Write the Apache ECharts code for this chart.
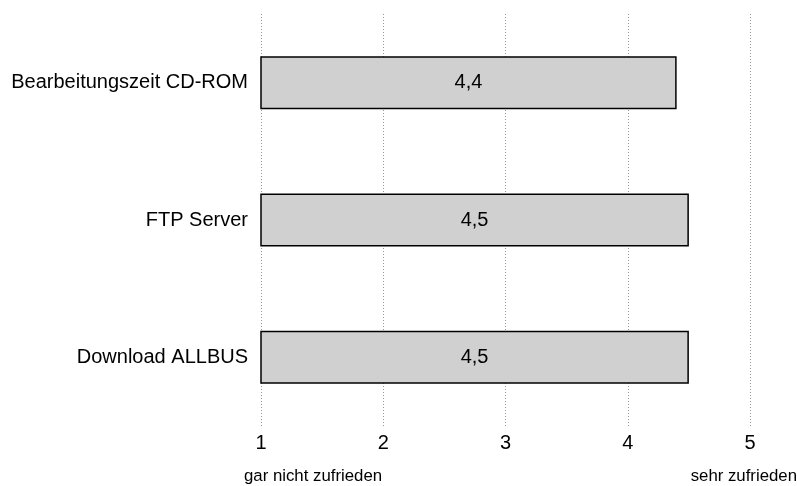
<!DOCTYPE html>
<html>
<head>
<meta charset="utf-8">
<script src="https://cdn.jsdelivr.net/npm/echarts@6/dist/echarts.min.js"></script>
<style>
  html, body { margin: 0; padding: 0; background: #fff; }
  #chart { width: 797px; height: 486px; }
</style>
</head>
<body>
<div id="chart"></div>
<script>
// Satisfaction ratings (scale 1 = gar nicht zufrieden ... 5 = sehr zufrieden)
const categories = ['Bearbeitungszeit CD-ROM', 'FTP Server', 'Download ALLBUS'];
const ratings = [4.4, 4.5, 4.5];
const scaleTicks = [1, 2, 3, 4, 5];
const scaleEndLabels = ['gar nicht zufrieden', 'sehr zufrieden'];

const FONT = '"Liberation Sans", Arial, Helvetica, sans-serif';
const chart = echarts.init(document.getElementById('chart'), null, { renderer: 'canvas' });

const fmt = v => String(v).replace('.', ',');

chart.setOption({
  animation: false,
  backgroundColor: '#ffffff',
  grid: { left: 261, right: 47, top: 14, bottom: 60, containLabel: false },
  xAxis: {
    type: 'value',
    min: scaleTicks[0],
    max: scaleTicks[scaleTicks.length - 1],
    interval: 1,
    axisLine: { show: false },
    axisTick: { show: false },
    axisLabel: { fontFamily: FONT, fontSize: 20, color: '#000', margin: 7 },
    splitLine: { show: true, lineStyle: { color: '#999', type: [1, 2], width: 1 } }
  },
  yAxis: {
    type: 'category',
    data: categories,
    inverse: true,
    axisLine: { show: false },
    axisTick: { show: false },
    axisLabel: { fontFamily: FONT, fontSize: 20, color: '#000', margin: 13 }
  },
  series: [{
    type: 'bar',
    data: ratings,
    barWidth: 53,
    itemStyle: { color: '#d0d0d0', borderColor: '#000', borderWidth: 1.5 },
    label: {
      show: true,
      position: 'inside',
      fontFamily: FONT,
      fontSize: 20,
      color: '#000',
      formatter: p => fmt(p.value)
    }
  }],
  graphic: [
    {
      type: 'text', left: 244, top: 468,
      style: { text: scaleEndLabels[0], font: '16.8px ' + FONT, fill: '#000' }
    },
    {
      type: 'text', right: 0, top: 468,
      style: { text: scaleEndLabels[1], font: '16.8px ' + FONT, fill: '#000' }
    }
  ]
});
</script>
</body>
</html>
